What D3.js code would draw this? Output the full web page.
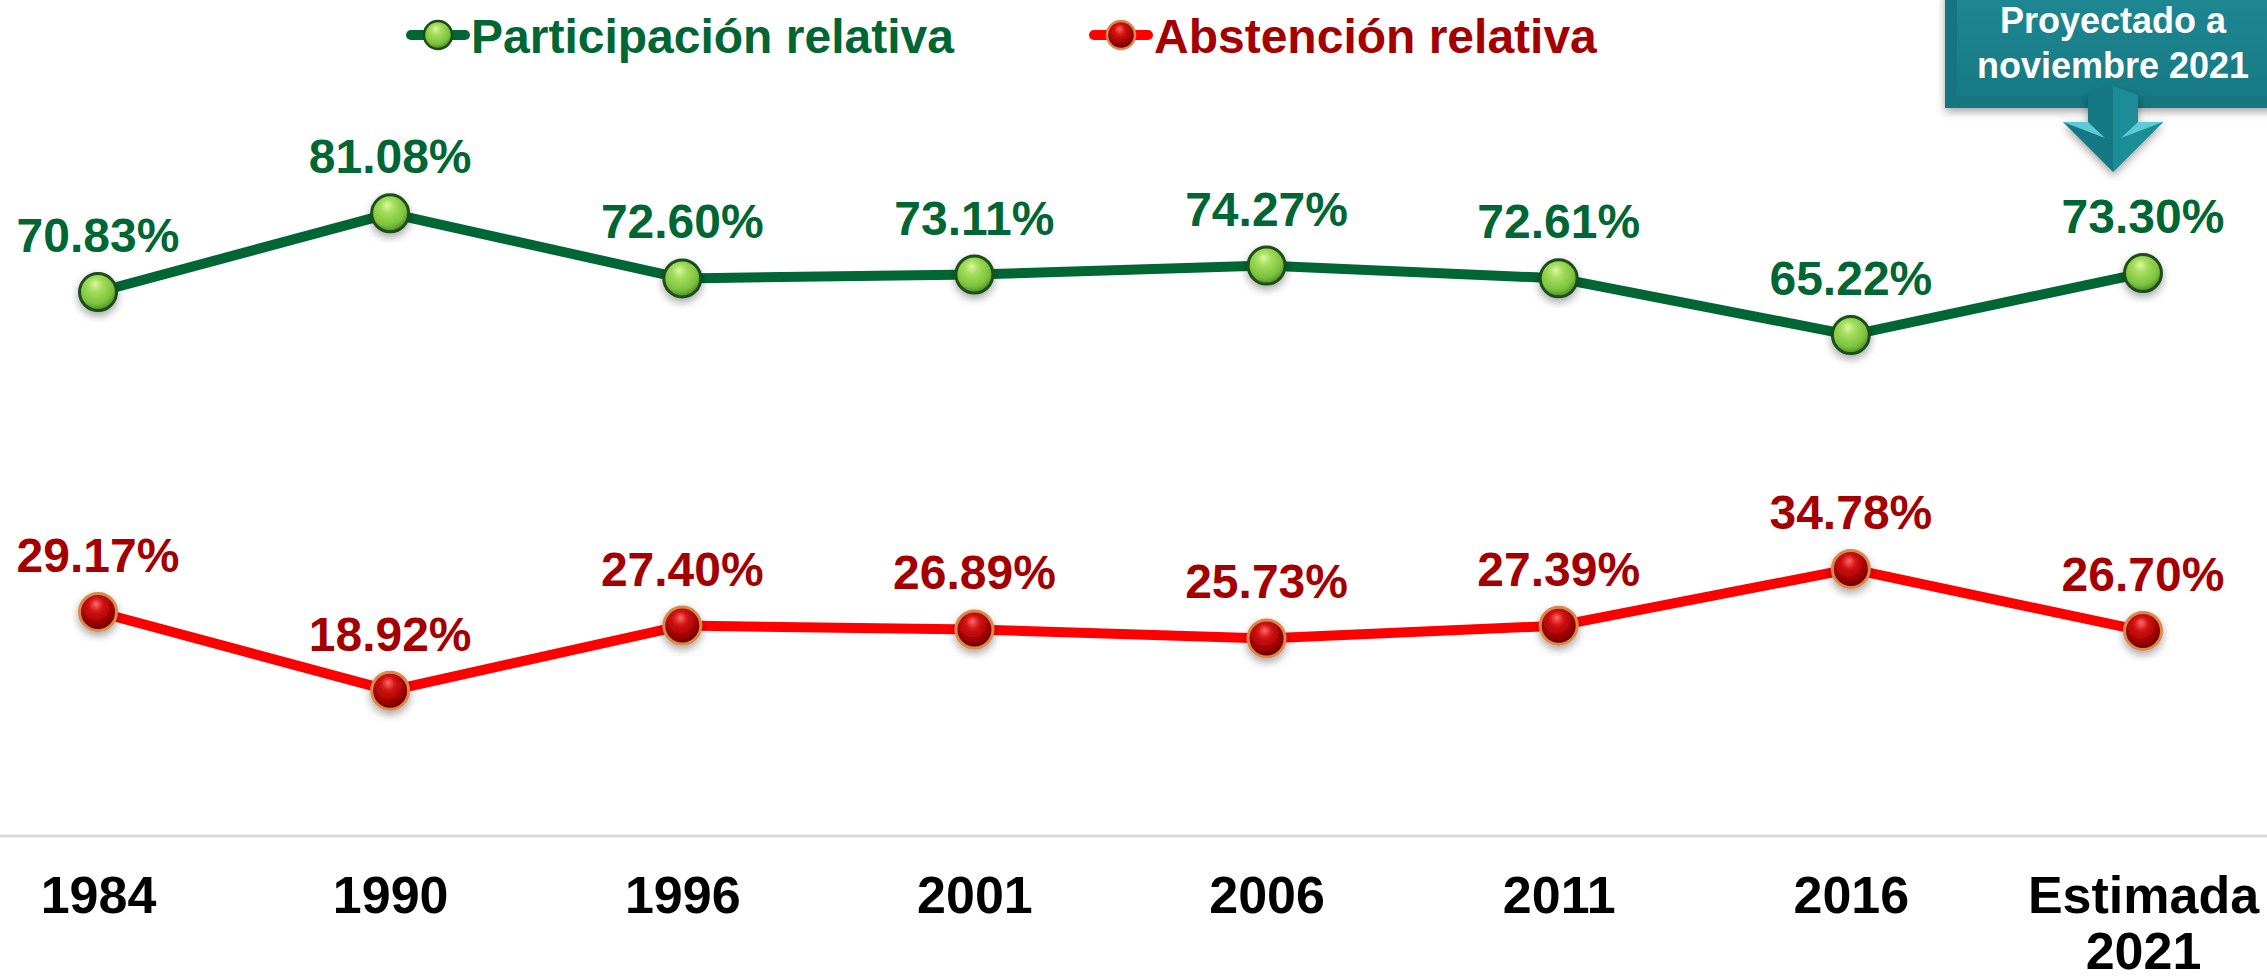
<!DOCTYPE html>
<html>
<head>
<meta charset="utf-8">
<script src="https://cdnjs.cloudflare.com/ajax/libs/d3/7.8.5/d3.min.js"></script>
<style>
  body { margin: 0; background: #fff; }
  svg text { font-family: "Liberation Sans", Arial, sans-serif; font-weight: bold; }
</style>
</head>
<body>
<div id="chart"></div>
<script>
// data
var categories = ["1984", "1990", "1996", "2001", "2006", "2011", "2016", "Estimada 2021"];
var participacion = [70.83, 81.08, 72.60, 73.11, 74.27, 72.61, 65.22, 73.30];
var abstencion = [29.17, 18.92, 27.40, 26.89, 25.73, 27.39, 34.78, 26.70];
var seriesNames = ["Participación relativa", "Abstención relativa"];
var calloutLines = ["Proyectado a", "noviembre 2021"];

var width = 2267, height = 980;

var svg = d3.select("#chart")
  .append("svg")
    .attr("width", width)
    .attr("height", height);

var defs = svg.append("defs");

// ball gradients for the markers
var gG = defs.append("radialGradient").attr("id", "ballGreen")
  .attr("cx", "45%").attr("cy", "38%").attr("r", "62%").attr("fx", "42%").attr("fy", "28%");
gG.append("stop").attr("offset", "0%").attr("stop-color", "#dcf8a0");
gG.append("stop").attr("offset", "30%").attr("stop-color", "#a4de5c");
gG.append("stop").attr("offset", "75%").attr("stop-color", "#7cc23e");
gG.append("stop").attr("offset", "100%").attr("stop-color", "#4a8a22");

var gR = defs.append("radialGradient").attr("id", "ballRed")
  .attr("cx", "45%").attr("cy", "38%").attr("r", "62%").attr("fx", "45%").attr("fy", "28%");
gR.append("stop").attr("offset", "0%").attr("stop-color", "#ff6a6a");
gR.append("stop").attr("offset", "30%").attr("stop-color", "#d41414");
gR.append("stop").attr("offset", "75%").attr("stop-color", "#9a0000");
gR.append("stop").attr("offset", "100%").attr("stop-color", "#5a0000");

var boxG = defs.append("linearGradient").attr("id", "boxGrad")
  .attr("x1", "0").attr("y1", "0").attr("x2", "0").attr("y2", "1");
boxG.append("stop").attr("offset", "0%").attr("stop-color", "#1f8893");
boxG.append("stop").attr("offset", "100%").attr("stop-color", "#177a84");

var shadow = defs.append("filter").attr("id", "shadow")
  .attr("x", "-20%").attr("y", "-20%").attr("width", "140%").attr("height", "150%");
shadow.append("feDropShadow").attr("dx", 0).attr("dy", 4).attr("stdDeviation", 4)
  .attr("flood-color", "#000").attr("flood-opacity", 0.35);

// scales
var x = d3.scalePoint()
  .domain(categories)
  .range([98, 2143]);

var y = d3.scaleLinear()
  .domain([0, 100])
  .range([836, 68]);

// baseline
svg.append("line")
  .attr("x1", 0).attr("x2", width)
  .attr("y1", y(0)).attr("y2", y(0))
  .attr("stroke", "#d9d9d9")
  .attr("stroke-width", 3);

// x axis labels
var xAxis = svg.append("g")
  .attr("transform", "translate(0," + 913 + ")")
  .call(d3.axisBottom(x).tickSize(0).tickPadding(0));
xAxis.select(".domain").remove();
xAxis.selectAll(".tick text")
  .attr("y", 0)
  .attr("dy", 0)
  .style("font-size", "52px")
  .style("font-family", "'Liberation Sans', Arial, sans-serif")
  .style("font-weight", "bold")
  .attr("fill", "#000")
  .each(function(d) {
    var t = d3.select(this);
    var parts = d.split(" ");
    t.text(null);
    parts.forEach(function(p, i) {
      t.append("tspan").attr("x", 0).attr("dy", i === 0 ? 0 : 56).text(p);
    });
  });

var series = [
  { name: seriesNames[0], values: participacion, line: "#006633", text: "#006633", ball: "url(#ballGreen)", ring: "#1b4d1b", ringW: 3 },
  { name: seriesNames[1], values: abstencion, line: "#ff0000", text: "#a50000", ball: "url(#ballRed)", ring: "#d9894a", ringW: 3 }
];

var line = d3.line()
  .x(function(d, i) { return x(categories[i]); })
  .y(function(d) { return y(d); });

series.forEach(function(s) {
  svg.append("path")
    .datum(s.values)
    .attr("fill", "none")
    .attr("stroke", s.line)
    .attr("stroke-width", 10)
    .attr("stroke-linejoin", "round")
    .attr("d", line);

  svg.selectAll(null)
    .data(s.values)
    .enter()
    .append("circle")
      .attr("cx", function(d, i) { return x(categories[i]); })
      .attr("cy", function(d) { return y(d); })
      .attr("r", 18.5)
      .attr("fill", s.ball)
      .attr("stroke", s.ring)
      .attr("stroke-width", s.ringW)
      .attr("filter", "url(#shadow)");

  svg.selectAll(null)
    .data(s.values)
    .enter()
    .append("text")
      .attr("x", function(d, i) { return x(categories[i]); })
      .attr("y", function(d) { return y(d) - 40; })
      .attr("text-anchor", "middle")
      .attr("fill", s.text)
      .style("font-size", "48px")
      .text(function(d) { return d.toFixed(2) + "%"; });
});

// legend
var legendX = [407, 1090];
series.forEach(function(s, i) {
  var lg = svg.append("g").attr("transform", "translate(" + legendX[i] + ",35)");
  lg.append("line")
    .attr("x1", 4).attr("x2", 58)
    .attr("stroke", s.line)
    .attr("stroke-width", 10)
    .attr("stroke-linecap", "round");
  lg.append("circle")
    .attr("cx", 31).attr("cy", 0).attr("r", 14)
    .attr("fill", s.ball)
    .attr("stroke", s.ring)
    .attr("stroke-width", 2.5);
  lg.append("text")
    .attr("x", 64).attr("y", 18)
    .attr("fill", s.text)
    .style("font-size", "48px")
    .text(s.name);
});

// callout box
var cx = 2113;
var callout = svg.append("g");
callout.append("rect")
  .attr("x", 1945).attr("y", -10)
  .attr("width", 340).attr("height", 118)
  .attr("fill", "#157580")
  .attr("filter", "url(#shadow)");
callout.append("rect")
  .attr("x", 1957).attr("y", -10)
  .attr("width", 316).attr("height", 106)
  .attr("fill", "url(#boxGrad)");
// arrow
callout.append("polygon")
  .attr("points", [[cx, 86], [cx + 25, 95], [cx + 25, 122], [cx + 50, 122], [cx, 172], [cx - 50, 122], [cx - 25, 122], [cx - 25, 95]].join(" "))
  .attr("fill", "#157883")
  .attr("filter", "url(#shadow)");
callout.append("polygon")
  .attr("points", [[cx, 86], [cx + 25, 95], [cx + 25, 122], [cx + 50, 122], [cx, 172]].join(" "))
  .attr("fill", "#1c8c97");
callout.append("polygon")
  .attr("points", [[cx - 50, 122], [cx - 25, 122], [cx - 8, 138]].join(" "))
  .attr("fill", "#5ccbd6");
callout.append("polygon")
  .attr("points", [[cx + 50, 122], [cx + 25, 122], [cx + 8, 138]].join(" "))
  .attr("fill", "#5ccbd6");
callout.selectAll(null)
  .data(calloutLines)
  .enter()
  .append("text")
    .attr("x", cx)
    .attr("y", function(d, i) { return 33 + i * 45; })
    .attr("text-anchor", "middle")
    .attr("fill", "#fff")
    .style("font-size", "36px")
    .text(function(d) { return d; });
</script>
</body>
</html>
